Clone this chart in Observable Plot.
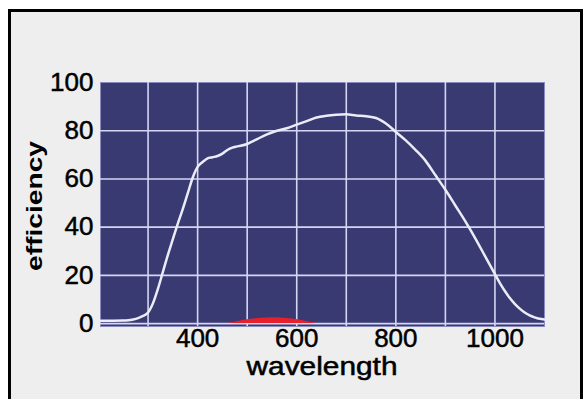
<!DOCTYPE html>
<html>
<head>
<meta charset="utf-8">
<script src="https://cdn.jsdelivr.net/npm/d3@7"></script>
<script src="https://cdn.jsdelivr.net/npm/@observablehq/plot@0.6"></script>
<style>
  html, body { margin: 0; padding: 0; background: #ffffff; }
  #border { position: absolute; left: 8px; top: 9px; width: 569px; height: 400px;
            border: 3px solid #000; border-bottom: none; background: #eeeeee; }
  #chart { position: absolute; left: 0; top: 0; }
  #chart g[aria-label$="tick label"] text, #chart text.xtitle { stroke: #000; stroke-width: 0.5px; }
</style>
</head>
<body>
<div id="border"></div>
<div id="chart"></div>
<script>
// Quantum efficiency curve (wavelength in nm, efficiency in %)
const wavelength = [204, 230, 250, 260, 270, 280, 290, 300, 310, 320, 330, 340, 350, 360, 370, 380, 390, 400,
  410, 420, 430, 440, 450, 460, 470, 480, 500, 510, 520, 540, 560, 580, 600, 620, 640, 660, 680,
  700, 720, 740, 760, 780, 800, 820, 840, 860, 880, 900, 920, 940, 960, 980, 1000, 1010, 1020, 1030,
  1040, 1050, 1060, 1070, 1080, 1090, 1100];
const efficiency = [1.2, 1.2, 1.25, 1.35, 1.7, 2.3, 3.2, 4.6, 8.5, 14.5, 21.5, 28.5, 35, 41.5, 47.5, 54, 60.5, 65,
  67, 68.5, 69, 69.5, 70.5, 72, 73, 73.5, 74.5, 75.5, 76.5, 78.5, 80, 81, 82.5, 84, 85.5, 86.2, 86.6,
  86.8, 86.3, 86, 85.3, 83, 79.5, 76, 72, 67.5, 61.5, 55.5, 49, 42.5, 35.5, 28, 20.5, 16.8, 13.5, 10.6,
  8.2, 6.2, 4.6, 3.4, 2.6, 2.0, 1.7];

// Small red band at the bottom
const redWavelength = [460, 480, 500, 530, 555, 580, 610, 640];
const redValue = [0, 0.8, 1.6, 2.2, 2.4, 2.1, 1.3, 0];

const xTicks = [400, 600, 800, 1000];
const yTicks = [0, 20, 40, 60, 80, 100];
const xGrid = [300, 400, 500, 600, 700, 800, 900, 1000];
const yGrid = [0, 20, 40, 60, 80];

const xLabel = "wavelength";
const yLabel = "efficiency";

const curve = wavelength.map((w, i) => ({w, e: efficiency[i]}));
const red = redWavelength.map((w, i) => ({w, v: redValue[i]}));

const chart = Plot.plot({
  width: 586,
  height: 399,
  marginLeft: 100,
  marginRight: 42,
  marginTop: 82,
  marginBottom: 73,
  style: {
    background: "transparent",
    fontFamily: "'Liberation Sans', Arial, sans-serif",
    fontSize: "26px",
    color: "#000"
  },
  x: {domain: [204, 1100]},
  y: {domain: [-1.2, 100]},
  marks: [
    Plot.frame({fill: "#393a72", stroke: "#8a8cc0", strokeWidth: 1}),
    Plot.ruleX(xGrid, {stroke: "#d6d6f4", strokeWidth: 1.6}),
    Plot.ruleY(yGrid, {stroke: "#d6d6f4", strokeWidth: 1.6}),
    Plot.areaY(red, {x: "w", y1: 0, y2: "v", fill: "#e8202c", curve: "natural"}),
    Plot.line(curve, {x: "w", y: "e", stroke: "#ececf8", strokeWidth: 2.5, curve: "monotone-x"}),
    Plot.axisX(xTicks, {tickSize: 0, tickPadding: 2, label: null, fill: "#000", tickFormat: d3.format("d")}),
    Plot.axisY(yTicks, {tickSize: 0, tickPadding: 7, label: null, fill: "#000", tickFormat: d3.format("d")})
  ]
});

const svg = d3.select(chart);
svg.append("text")
  .attr("class", "xtitle")
  .attr("x", 322).attr("y", 375)
  .attr("text-anchor", "middle")
  .attr("font-size", 25)
  .attr("fill", "#000")
  .attr("textLength", 151)
  .attr("lengthAdjust", "spacingAndGlyphs")
  .text(xLabel);
svg.append("text")
  .attr("transform", "translate(42,206) rotate(-90)")
  .attr("text-anchor", "middle")
  .attr("font-size", 22)
  .attr("font-weight", "bold")
  .attr("fill", "#000")
  .attr("textLength", 130)
  .attr("lengthAdjust", "spacingAndGlyphs")
  .text(yLabel);

document.getElementById("chart").append(chart);
</script>
</body>
</html>
